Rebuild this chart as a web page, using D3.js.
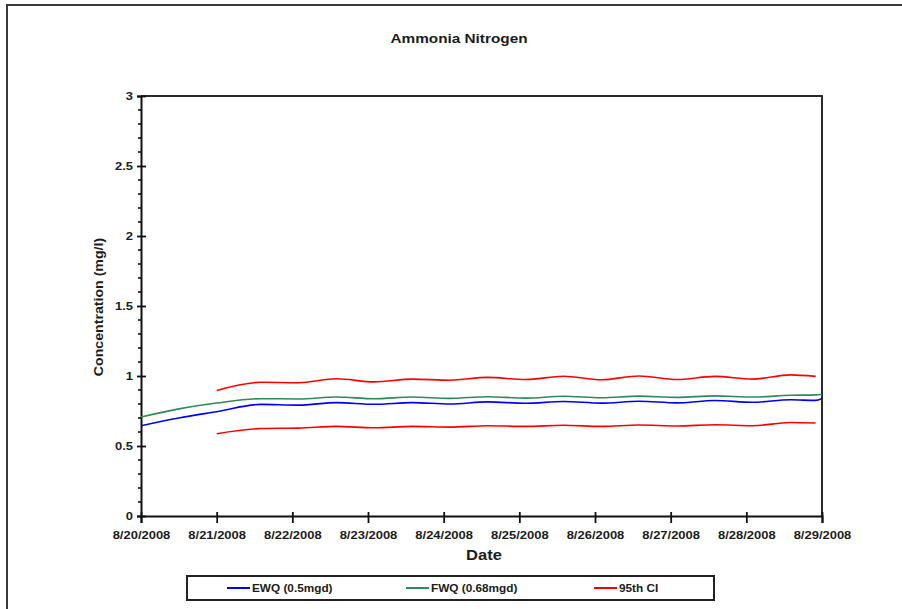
<!DOCTYPE html>
<html>
<head>
<meta charset="utf-8">
<script src="https://cdn.jsdelivr.net/npm/d3@7"></script>
<style>
  html, body { margin: 0; padding: 0; background: #fff; }
  svg { display: block; }
  text { font-family: "Liberation Sans", Arial, sans-serif; fill: #1c1c1c; }
</style>
</head>
<body>
<svg id="chart" width="902" height="609"></svg>
<script>
// Sample times (UTC) shared by all series
const sampleTimes = [
  "2008-08-20T00:00Z", "2008-08-20T12:00Z", "2008-08-21T00:00Z", "2008-08-21T14:00Z",
  "2008-08-22T02:00Z", "2008-08-22T14:00Z", "2008-08-23T02:00Z", "2008-08-23T14:00Z",
  "2008-08-24T02:00Z", "2008-08-24T14:00Z", "2008-08-25T02:00Z", "2008-08-25T14:00Z",
  "2008-08-26T02:00Z", "2008-08-26T14:00Z", "2008-08-27T02:00Z", "2008-08-27T14:00Z",
  "2008-08-28T02:00Z", "2008-08-28T14:00Z", "2008-08-28T22:00Z", "2008-08-29T00:00Z"
];

// Concentrations (mg/l); null = no value at that time
const ewq = [0.645, 0.700, 0.745, 0.797, 0.792, 0.810, 0.798, 0.810, 0.800, 0.815,
             0.805, 0.818, 0.806, 0.820, 0.808, 0.825, 0.812, 0.830, 0.826, 0.840];
const fwq = [0.707, 0.765, 0.807, 0.838, 0.836, 0.850, 0.838, 0.850, 0.840, 0.852,
             0.842, 0.855, 0.845, 0.856, 0.847, 0.858, 0.850, 0.862, 0.865, 0.868];
const ciUpper = [null, null, 0.897, 0.955, 0.952, 0.980, 0.958, 0.978, 0.970, 0.990,
                 0.975, 0.998, 0.973, 1.000, 0.975, 0.997, 0.978, 1.008, 0.997, null];
const ciLower = [null, null, 0.588, 0.625, 0.628, 0.640, 0.630, 0.640, 0.635, 0.645,
                 0.640, 0.648, 0.640, 0.650, 0.643, 0.652, 0.645, 0.668, 0.664, null];

const xTickDates = ["2008-08-20", "2008-08-21", "2008-08-22", "2008-08-23", "2008-08-24",
                    "2008-08-25", "2008-08-26", "2008-08-27", "2008-08-28", "2008-08-29"];
const yTickValues = [0, 0.5, 1, 1.5, 2, 2.5, 3];
const yTickLabels = ["0", "0.5", "1", "1.5", "2", "2.5", "3"];

const seriesNames = ["EWQ (0.5mgd)", "FWQ (0.68mgd)", "95th CI"];
const seriesColors = ["#0000ff", "#2e8b57", "#ff0000"];

const titleText = "Ammonia Nitrogen";
const xTitle = "Date";
const yTitle = "Concentration (mg/l)";

// ---- layout ----
const svg = d3.select("#chart");
const plot = { left: 141, right: 822, top: 96, bottom: 516 };
const stretch = 1.18; // horizontal glyph stretch used by all labels

const times = sampleTimes.map(s => new Date(s));
const x = d3.scaleUtc()
  .domain([new Date("2008-08-20T00:00Z"), new Date("2008-08-29T00:00Z")])
  .range([plot.left, plot.right]);
const y = d3.scaleLinear().domain([0, 3]).range([plot.bottom, plot.top]);

// page frame
svg.append("line").attr("x1", 6).attr("x2", 902).attr("y1", 5).attr("y2", 5)
  .attr("stroke", "#3a3a3a").attr("stroke-width", 2);
svg.append("line").attr("x1", 7).attr("x2", 7).attr("y1", 5).attr("y2", 609)
  .attr("stroke", "#3a3a3a").attr("stroke-width", 2);

// title
svg.append("text")
  .attr("transform", `translate(459,43) scale(${stretch},1)`)
  .attr("text-anchor", "middle").attr("font-size", 13).attr("font-weight", "bold")
  .text(titleText);

// plot box (top and right edges)
svg.append("path")
  .attr("d", `M${plot.left},${plot.top}H${plot.right}V${plot.bottom}`)
  .attr("fill", "none").attr("stroke", "#2a2a2a").attr("stroke-width", 2);

// y minor ticks every 0.1
const minorVals = d3.range(0, 31).map(i => i / 10).filter(v => Math.round(v * 10) % 5 !== 0);
svg.append("g").selectAll("line").data(minorVals).join("line")
  .attr("x1", plot.left - 3).attr("x2", plot.left)
  .attr("y1", d => y(d)).attr("y2", d => y(d))
  .attr("stroke", "#111").attr("stroke-width", 1.6);

// y axis
const yAxis = svg.append("g")
  .attr("transform", `translate(${plot.left},0)`)
  .call(d3.axisLeft(y).tickValues(yTickValues).tickSize(4).tickPadding(8)
    .tickFormat((d, i) => yTickLabels[i]));
yAxis.select(".domain").attr("stroke", "#111").attr("stroke-width", 2);
yAxis.selectAll(".tick line").attr("x1", 5).attr("stroke", "#111").attr("stroke-width", 1.8);
yAxis.selectAll(".tick text")
  .attr("font-family", "Liberation Sans, Arial, sans-serif").attr("font-size", 11)
  .attr("font-weight", "bold").attr("fill", "#1c1c1c")
  .attr("x", 0).attr("transform", `translate(-8,0) scale(${stretch},1)`);

// x axis
const xAxis = svg.append("g")
  .attr("transform", `translate(0,${plot.bottom})`)
  .call(d3.axisBottom(x).tickValues(xTickDates.map(s => new Date(s + "T00:00Z")))
    .tickSize(7).tickPadding(8).tickFormat(d3.utcFormat("%-m/%-d/%Y")));
xAxis.select(".domain").attr("stroke", "#111").attr("stroke-width", 2);
xAxis.selectAll(".tick line").attr("y1", -4).attr("stroke", "#111").attr("stroke-width", 1.8);
xAxis.selectAll(".tick text")
  .attr("font-family", "Liberation Sans, Arial, sans-serif").attr("font-size", 11)
  .attr("font-weight", "bold").attr("fill", "#1c1c1c")
  .attr("transform", `scale(${stretch},1)`);

// axis titles
svg.append("text")
  .attr("transform", `translate(484,560) scale(${stretch},1)`)
  .attr("text-anchor", "middle").attr("font-size", 14).attr("font-weight", "bold")
  .text(xTitle);
svg.append("text")
  .attr("transform", `translate(103,307) rotate(-90) scale(${stretch},1)`)
  .attr("text-anchor", "middle").attr("font-size", 12).attr("font-weight", "bold")
  .text(yTitle);

// series lines
const line = d3.line()
  .defined(d => d.v !== null)
  .x(d => x(d.t)).y(d => y(d.v))
  .curve(d3.curveMonotoneX);
const toPoints = vals => vals.map((v, i) => ({ t: times[i], v }));
const drawn = [
  { vals: ciUpper, color: seriesColors[2] },
  { vals: ciLower, color: seriesColors[2] },
  { vals: fwq, color: seriesColors[1] },
  { vals: ewq, color: seriesColors[0] }
];
svg.append("g").selectAll("path").data(drawn).join("path")
  .attr("d", d => line(toPoints(d.vals)))
  .attr("fill", "none").attr("stroke", d => d.color)
  .attr("stroke-width", 1.6).attr("stroke-linejoin", "round");

// legend
const legend = svg.append("g");
legend.append("rect").attr("x", 187).attr("y", 576).attr("width", 527).attr("height", 24)
  .attr("fill", "#fff").attr("stroke", "#222").attr("stroke-width", 2);
const legendX = [227, 406, 594];
const items = legend.selectAll("g.item").data(seriesNames).join("g")
  .attr("class", "item")
  .attr("transform", (d, i) => `translate(${legendX[i]},588)`);
items.append("line").attr("x1", 0).attr("x2", 23).attr("y1", 0).attr("y2", 0)
  .attr("stroke", (d, i) => seriesColors[i]).attr("stroke-width", 2);
items.append("text")
  .attr("transform", `translate(25,4) scale(${stretch},1)`)
  .attr("font-size", 10).attr("font-weight", "bold")
  .text(d => d);
</script>
</body>
</html>
